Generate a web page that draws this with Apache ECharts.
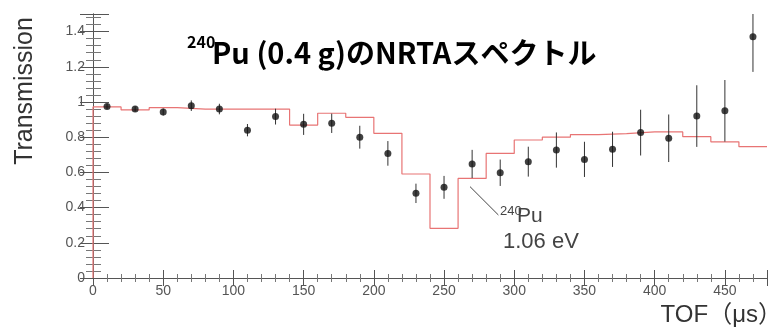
<!DOCTYPE html>
<html>
<head>
<meta charset="utf-8">
<script src="https://cdn.jsdelivr.net/npm/echarts@6/dist/echarts.min.js"></script>
<style>
  html, body { margin: 0; padding: 0; background: #fff; }
  #chart { width: 783px; height: 330px; }
</style>
</head>
<body>
<div id="chart"></div>
<script>
// measured points (bin centres, µs)
const tof = [10, 30, 50, 70, 90, 110, 130, 150, 170, 190, 210, 230, 250, 270, 290, 310, 330, 350, 370, 390, 410, 430, 450, 470];
const transmission = [0.975, 0.96, 0.943, 0.979, 0.96, 0.84, 0.917, 0.873, 0.879, 0.80, 0.708, 0.481, 0.515, 0.648, 0.598, 0.661, 0.727, 0.674, 0.731, 0.826, 0.794, 0.92, 0.95, 1.371];
const errors = [0.015, 0.015, 0.02, 0.03, 0.03, 0.035, 0.045, 0.06, 0.055, 0.065, 0.07, 0.055, 0.065, 0.08, 0.075, 0.085, 0.1, 0.1, 0.1, 0.13, 0.135, 0.175, 0.175, 0.2];

// simulated histogram (red), bin edges and contents
const modelEdges = [0, 20, 40, 60, 80, 100, 120, 140, 160, 180, 200, 220, 240, 260, 280, 300, 320, 340, 360, 380, 400, 420, 440, 460, 480];
const modelValues = [0.972, 0.955, 0.968, 0.96, 0.96, 0.96, 0.96, 0.869, 0.936, 0.913, 0.822, 0.591, 0.282, 0.566, 0.708, 0.784, 0.80, 0.815, 0.82, 0.83, 0.83, 0.803, 0.774, 0.746];

// pointer line for the 1.06 eV resonance label
const pointerLine = [[268.5, 0.519], [288.7, 0.358]];

const xTicks = { min: 0, max: 480, interval: 50 };
const yTicks = { min: 0, max: 1.5, interval: 0.2 };

const chart = echarts.init(document.getElementById('chart'));

// histogram drawn as a step line starting from 0 at the left edge
const stepData = [[modelEdges[0], 0]];
modelValues.forEach((v, i) => stepData.push([modelEdges[i], v]));
stepData.push([modelEdges[modelEdges.length - 1], modelValues[modelValues.length - 1]]);

const axisLine = { lineStyle: { color: '#555', width: 1 } };
const labelFont = { fontFamily: 'Liberation Sans', fontSize: 14, color: '#555' };

const option = {
  animation: false,
  backgroundColor: '#fff',
  grid: { left: 93, right: 16, top: 14, bottom: 52 },
  xAxis: [
    {
      type: 'value', position: 'bottom', ...xTicks,
      axisLine: { onZero: false, ...axisLine },
      axisTick: { inside: true, length: 8, lineStyle: { color: '#555' } },
      minorTick: { show: true, splitNumber: 5, length: 4, lineStyle: { color: '#777' } },
      axisLabel: { ...labelFont, margin: 6, showMaxLabel: false },
      splitLine: { show: false }
    },
    {
      type: 'value', position: 'top', ...xTicks,
      axisLine: axisLine,
      axisTick: { inside: true, length: 8, lineStyle: { color: '#555' } },
      minorTick: { show: true, splitNumber: 5, length: 4, lineStyle: { color: '#777' } },
      axisLabel: { show: false },
      splitLine: { show: false }
    }
  ],
  yAxis: [
    {
      type: 'value', position: 'left', ...yTicks,
      axisLine: { onZero: false, ...axisLine },
      axisTick: { inside: true, length: 16, lineStyle: { color: '#555' } },
      minorTick: { show: true, splitNumber: 5, length: 8, lineStyle: { color: '#777' } },
      axisLabel: { ...labelFont, margin: 8, showMaxLabel: false },
      splitLine: { show: false }
    },
    {
      type: 'value', position: 'right', ...yTicks,
      axisLine: axisLine,
      axisTick: { inside: true, length: 13, lineStyle: { color: '#555' } },
      minorTick: { show: true, splitNumber: 5, length: 7, lineStyle: { color: '#777' } },
      axisLabel: { show: false },
      splitLine: { show: false }
    }
  ],
  series: [
    {
      name: 'simulation',
      type: 'line',
      step: 'end',
      data: stepData,
      showSymbol: false,
      lineStyle: { color: '#e87474', width: 1.2 },
      z: 2
    },
    {
      name: 'errors',
      type: 'custom',
      data: tof.map((t, i) => [t, transmission[i], errors[i]]),
      clip: true,
      renderItem: function (params, api) {
        const x = api.value(0), y = api.value(1), e = api.value(2);
        const top = api.coord([x, Math.min(y + e, yTicks.max)]);
        const bot = api.coord([x, y - e]);
        return {
          type: 'line',
          shape: { x1: top[0], y1: top[1], x2: bot[0], y2: bot[1] },
          style: { stroke: '#333', lineWidth: 1 }
        };
      },
      z: 3
    },
    {
      name: 'data',
      type: 'scatter',
      data: tof.map((t, i) => [t, transmission[i]]),
      symbolSize: 7,
      itemStyle: { color: '#111' },
      z: 4
    },
    {
      name: 'pointer',
      type: 'line',
      data: pointerLine,
      showSymbol: false,
      lineStyle: { color: '#444', width: 1 },
      z: 3
    }
  ],
  graphic: [
    {
      type: 'text', x: 25, y: 91, rotation: Math.PI / 2,
      style: { text: 'Transmission', fontFamily: 'Liberation Sans', fontSize: 25, fill: '#333', align: 'center', verticalAlign: 'middle' }
    },
    {
      type: 'text', x: 782, y: 315,
      style: { text: 'TOF（μs）', fontFamily: 'Liberation Sans, "Noto Sans CJK JP"', fontSize: 24, fill: '#333', align: 'right', verticalAlign: 'middle' }
    },
    {
      type: 'text', x: 187, y: 42,
      style: { text: '240', fontFamily: '"Noto Sans CJK JP"', fontWeight: 'bold', fontSize: 16, fill: '#000', align: 'left', verticalAlign: 'middle' }
    },
    {
      type: 'text', x: 212, y: 53,
      style: { text: 'Pu (0.4 g)のNRTAスペクトル', fontFamily: '"Noto Sans CJK JP"', fontWeight: 'bold', fontSize: 29, fill: '#000', align: 'left', verticalAlign: 'middle' }
    },
    {
      type: 'text', x: 500, y: 211,
      style: { text: '240', fontFamily: 'Liberation Sans', fontSize: 13, fill: '#444', align: 'left', verticalAlign: 'middle' }
    },
    {
      type: 'text', x: 517, y: 216,
      style: { text: 'Pu', fontFamily: 'Liberation Sans', fontSize: 21, fill: '#444', align: 'left', verticalAlign: 'middle' }
    },
    {
      type: 'text', x: 503, y: 242,
      style: { text: '1.06 eV', fontFamily: 'Liberation Sans', fontSize: 22, fill: '#444', align: 'left', verticalAlign: 'middle' }
    }
  ]
};

chart.setOption(option);
</script>
</body>
</html>
